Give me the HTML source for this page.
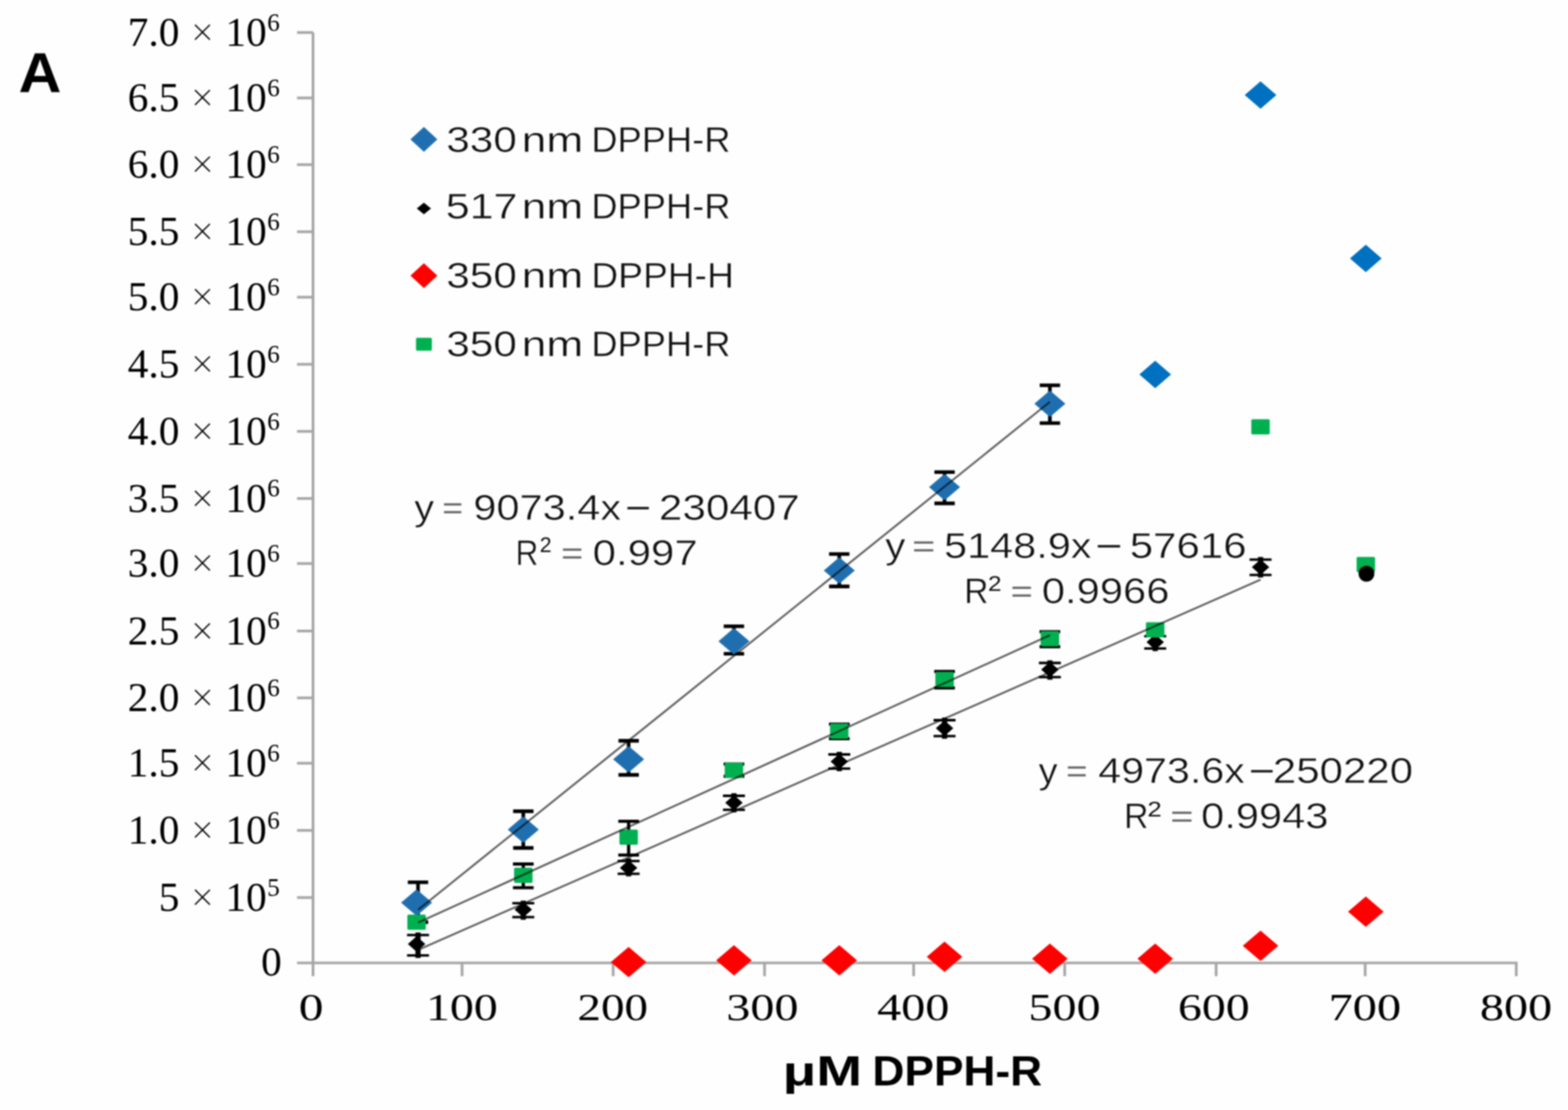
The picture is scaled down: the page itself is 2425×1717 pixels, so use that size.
<!DOCTYPE html>
<html><head><meta charset="utf-8"><title>DPPH calibration chart</title>
<style>
html,body{margin:0;padding:0;background:#fefefe;width:2425px;height:1717px;overflow:hidden}
svg{display:block}
#wrap{filter:blur(1px)}
.serif text{font-family:'Liberation Serif','Times New Roman',serif;fill:#000}
.serif text.times{stroke:#fefefe;stroke-width:1.0px}
.sans text{font-family:'Liberation Sans',Arial,sans-serif;fill:#111;stroke:#fefefe;stroke-width:0.6px}
.sans text.ns{stroke:none;fill:#222}
.sans text.eq{stroke:none;fill:#666}
.sans text.sup{stroke:none}
.sans text.bd{stroke:none;fill:#000}
</style></head><body>
<div id="wrap"><svg width="2425" height="1717" viewBox="0 0 2425 1717">
<rect width="2425" height="1717" fill="#fefefe"/>
<g class="axes">
<line x1="484.1" y1="50.3" x2="484.1" y2="1510" stroke="#a6a6a6" stroke-width="4.2"/>
<line x1="459.4" y1="1489.5" x2="2347.1" y2="1489.5" stroke="#a6a6a6" stroke-width="4.2"/>
<line x1="459.4" y1="1388.4" x2="484.1" y2="1388.4" stroke="#a6a6a6" stroke-width="4.2"/>
<line x1="459.4" y1="1284.5" x2="484.1" y2="1284.5" stroke="#a6a6a6" stroke-width="4.2"/>
<line x1="459.4" y1="1180.6" x2="484.1" y2="1180.6" stroke="#a6a6a6" stroke-width="4.2"/>
<line x1="459.4" y1="1079.5" x2="484.1" y2="1079.5" stroke="#a6a6a6" stroke-width="4.2"/>
<line x1="459.4" y1="976.1" x2="484.1" y2="976.1" stroke="#a6a6a6" stroke-width="4.2"/>
<line x1="459.4" y1="871.7" x2="484.1" y2="871.7" stroke="#a6a6a6" stroke-width="4.2"/>
<line x1="459.4" y1="771.1" x2="484.1" y2="771.1" stroke="#a6a6a6" stroke-width="4.2"/>
<line x1="459.4" y1="667.3" x2="484.1" y2="667.3" stroke="#a6a6a6" stroke-width="4.2"/>
<line x1="459.4" y1="563.5" x2="484.1" y2="563.5" stroke="#a6a6a6" stroke-width="4.2"/>
<line x1="459.4" y1="459.7" x2="484.1" y2="459.7" stroke="#a6a6a6" stroke-width="4.2"/>
<line x1="459.4" y1="358.5" x2="484.1" y2="358.5" stroke="#a6a6a6" stroke-width="4.2"/>
<line x1="459.4" y1="254.7" x2="484.1" y2="254.7" stroke="#a6a6a6" stroke-width="4.2"/>
<line x1="459.4" y1="151.5" x2="484.1" y2="151.5" stroke="#a6a6a6" stroke-width="4.2"/>
<line x1="459.4" y1="50.3" x2="484.1" y2="50.3" stroke="#a6a6a6" stroke-width="4.2"/>
<line x1="714.6" y1="1489.5" x2="714.6" y2="1510" stroke="#a6a6a6" stroke-width="4.2"/>
<line x1="948.3" y1="1489.5" x2="948.3" y2="1510" stroke="#a6a6a6" stroke-width="4.2"/>
<line x1="1182.4" y1="1489.5" x2="1182.4" y2="1510" stroke="#a6a6a6" stroke-width="4.2"/>
<line x1="1413" y1="1489.5" x2="1413" y2="1510" stroke="#a6a6a6" stroke-width="4.2"/>
<line x1="1646.6" y1="1489.5" x2="1646.6" y2="1510" stroke="#a6a6a6" stroke-width="4.2"/>
<line x1="1880.8" y1="1489.5" x2="1880.8" y2="1510" stroke="#a6a6a6" stroke-width="4.2"/>
<line x1="2111.3" y1="1489.5" x2="2111.3" y2="1510" stroke="#a6a6a6" stroke-width="4.2"/>
<line x1="2345" y1="1489.5" x2="2345" y2="1510" stroke="#a6a6a6" stroke-width="4.2"/>
</g>
<g class="serif">
<text x="435.7" y="1508.7" font-size="64" text-anchor="end">0</text>
<text x="277.4" y="1409.0" font-size="64" text-anchor="end">5</text>
<text class="times" x="294.9" y="1409.0" font-size="64">×</text>
<text x="348.4" y="1409.0" font-size="64">10</text>
<text x="413.3" y="1385.6" font-size="39">5</text>
<text x="277.4" y="1305.1" font-size="64" text-anchor="end">1.0</text>
<text class="times" x="294.9" y="1305.1" font-size="64">×</text>
<text x="348.4" y="1305.1" font-size="64">10</text>
<text x="413.3" y="1281.7" font-size="39">6</text>
<text x="277.4" y="1201.2" font-size="64" text-anchor="end">1.5</text>
<text class="times" x="294.9" y="1201.2" font-size="64">×</text>
<text x="348.4" y="1201.2" font-size="64">10</text>
<text x="413.3" y="1177.8" font-size="39">6</text>
<text x="277.4" y="1100.1" font-size="64" text-anchor="end">2.0</text>
<text class="times" x="294.9" y="1100.1" font-size="64">×</text>
<text x="348.4" y="1100.1" font-size="64">10</text>
<text x="413.3" y="1076.7" font-size="39">6</text>
<text x="277.4" y="996.7" font-size="64" text-anchor="end">2.5</text>
<text class="times" x="294.9" y="996.7" font-size="64">×</text>
<text x="348.4" y="996.7" font-size="64">10</text>
<text x="413.3" y="973.3" font-size="39">6</text>
<text x="277.4" y="892.3" font-size="64" text-anchor="end">3.0</text>
<text class="times" x="294.9" y="892.3" font-size="64">×</text>
<text x="348.4" y="892.3" font-size="64">10</text>
<text x="413.3" y="868.9" font-size="39">6</text>
<text x="277.4" y="791.7" font-size="64" text-anchor="end">3.5</text>
<text class="times" x="294.9" y="791.7" font-size="64">×</text>
<text x="348.4" y="791.7" font-size="64">10</text>
<text x="413.3" y="768.3" font-size="39">6</text>
<text x="277.4" y="687.9" font-size="64" text-anchor="end">4.0</text>
<text class="times" x="294.9" y="687.9" font-size="64">×</text>
<text x="348.4" y="687.9" font-size="64">10</text>
<text x="413.3" y="664.5" font-size="39">6</text>
<text x="277.4" y="584.1" font-size="64" text-anchor="end">4.5</text>
<text class="times" x="294.9" y="584.1" font-size="64">×</text>
<text x="348.4" y="584.1" font-size="64">10</text>
<text x="413.3" y="560.7" font-size="39">6</text>
<text x="277.4" y="480.3" font-size="64" text-anchor="end">5.0</text>
<text class="times" x="294.9" y="480.3" font-size="64">×</text>
<text x="348.4" y="480.3" font-size="64">10</text>
<text x="413.3" y="456.9" font-size="39">6</text>
<text x="277.4" y="379.1" font-size="64" text-anchor="end">5.5</text>
<text class="times" x="294.9" y="379.1" font-size="64">×</text>
<text x="348.4" y="379.1" font-size="64">10</text>
<text x="413.3" y="355.7" font-size="39">6</text>
<text x="277.4" y="275.3" font-size="64" text-anchor="end">6.0</text>
<text class="times" x="294.9" y="275.3" font-size="64">×</text>
<text x="348.4" y="275.3" font-size="64">10</text>
<text x="413.3" y="251.9" font-size="39">6</text>
<text x="277.4" y="172.1" font-size="64" text-anchor="end">6.5</text>
<text class="times" x="294.9" y="172.1" font-size="64">×</text>
<text x="348.4" y="172.1" font-size="64">10</text>
<text x="413.3" y="148.7" font-size="39">6</text>
<text x="277.4" y="70.9" font-size="64" text-anchor="end">7.0</text>
<text class="times" x="294.9" y="70.9" font-size="64">×</text>
<text x="348.4" y="70.9" font-size="64">10</text>
<text x="413.3" y="47.5" font-size="39">6</text>
<text id="X0" x="462.03" y="1578.00" font-size="60" textLength="38.31" lengthAdjust="spacingAndGlyphs">0</text>
<text id="X1" x="658.65" y="1578.00" font-size="60" textLength="111.35" lengthAdjust="spacingAndGlyphs">100</text>
<text id="X2" x="893.05" y="1578.00" font-size="60" textLength="109.24" lengthAdjust="spacingAndGlyphs">200</text>
<text id="X3" x="1123.33" y="1578.00" font-size="60" textLength="111.46" lengthAdjust="spacingAndGlyphs">300</text>
<text id="X4" x="1356.45" y="1578.00" font-size="60" textLength="111.85" lengthAdjust="spacingAndGlyphs">400</text>
<text id="X5" x="1590.61" y="1578.00" font-size="60" textLength="111.47" lengthAdjust="spacingAndGlyphs">500</text>
<text id="X6" x="1821.76" y="1578.00" font-size="60" textLength="111.00" lengthAdjust="spacingAndGlyphs">600</text>
<text id="X7" x="2054.66" y="1578.00" font-size="60" textLength="112.37" lengthAdjust="spacingAndGlyphs">700</text>
<text id="X8" x="2288.79" y="1578.00" font-size="60" textLength="111.76" lengthAdjust="spacingAndGlyphs">800</text>
</g>
<g class="data">
<path d="M646.5 1364.8V1426.4" stroke="#000" stroke-width="5.6" stroke-linecap="butt"/><path d="M630.7 1364.8h31.5M630.7 1426.4h31.5" stroke="#000" stroke-width="5.6"/>
<path d="M809.3 1254.9V1311.6" stroke="#000" stroke-width="5.6" stroke-linecap="butt"/><path d="M793.6 1254.9h31.5M793.6 1311.6h31.5" stroke="#000" stroke-width="5.6"/>
<path d="M972.2 1145.9V1198.6" stroke="#000" stroke-width="5.6" stroke-linecap="butt"/><path d="M956.5 1145.9h31.5M956.5 1198.6h31.5" stroke="#000" stroke-width="5.6"/>
<path d="M1135.1 968.7V1011.2" stroke="#000" stroke-width="5.6" stroke-linecap="butt"/><path d="M1119.3 968.7h31.5M1119.3 1011.2h31.5" stroke="#000" stroke-width="5.6"/>
<path d="M1298.0 857.0V907.1" stroke="#000" stroke-width="5.6" stroke-linecap="butt"/><path d="M1282.2 857.0h31.5M1282.2 907.1h31.5" stroke="#000" stroke-width="5.6"/>
<path d="M1460.8 730.3V778.6" stroke="#000" stroke-width="5.6" stroke-linecap="butt"/><path d="M1445.1 730.3h31.5M1445.1 778.6h31.5" stroke="#000" stroke-width="5.6"/>
<path d="M1623.7 596.0V654.5" stroke="#000" stroke-width="5.6" stroke-linecap="butt"/><path d="M1608.0 596.0h31.5M1608.0 654.5h31.5" stroke="#000" stroke-width="5.6"/>
<path d="M620.3 1396.2L644.3 1375.7L668.3 1396.2L644.3 1416.7Z" fill="#1f6fb0"/>
<path d="M785.3 1283.2L809.3 1262.7L833.3 1283.2L809.3 1303.7Z" fill="#1f6fb0"/>
<path d="M948.2 1174.6L972.2 1154.1L996.2 1174.6L972.2 1195.1Z" fill="#1f6fb0"/>
<path d="M1111.1 992.1L1135.1 971.6L1159.1 992.1L1135.1 1012.6Z" fill="#1f6fb0"/>
<path d="M1274.0 882.5L1298.0 862.0L1322.0 882.5L1298.0 903.0Z" fill="#1f6fb0"/>
<path d="M1436.8 753.6L1460.8 733.1L1484.8 753.6L1460.8 774.1Z" fill="#1f6fb0"/>
<path d="M1599.7 624.6L1623.7 604.1L1647.7 624.6L1623.7 645.1Z" fill="#1f6fb0"/>
<path d="M1762.1 579.2L1786.6 558.0L1811.1 579.2L1786.6 600.5Z" fill="#0070c0"/>
<path d="M1925.0 147.0L1949.5 125.8L1974.0 147.0L1949.5 168.2Z" fill="#0070c0"/>
<path d="M2087.8 399.7L2112.3 378.4L2136.8 399.7L2112.3 420.9Z" fill="#0070c0"/>
<path d="M646.5 1446.4V1477.8" stroke="#000" stroke-width="8" stroke-linecap="square"/><path d="M629.5 1446.4h34M629.5 1477.8h34" stroke="#000" stroke-width="3.8"/>
<path d="M809.3 1397.2V1418.7" stroke="#000" stroke-width="8" stroke-linecap="square"/><path d="M792.3 1397.2h34M792.3 1418.7h34" stroke="#000" stroke-width="3.8"/>
<path d="M972.2 1331.9V1351.6" stroke="#000" stroke-width="8" stroke-linecap="square"/><path d="M955.2 1331.9h34M955.2 1351.6h34" stroke="#000" stroke-width="3.8"/>
<path d="M1135.1 1231.0V1252.6" stroke="#000" stroke-width="8" stroke-linecap="square"/><path d="M1118.1 1231.0h34M1118.1 1252.6h34" stroke="#000" stroke-width="3.8"/>
<path d="M1298.0 1167.0V1188.9" stroke="#000" stroke-width="8" stroke-linecap="square"/><path d="M1281.0 1167.0h34M1281.0 1188.9h34" stroke="#000" stroke-width="3.8"/>
<path d="M1460.8 1114.0V1138.7" stroke="#000" stroke-width="8" stroke-linecap="square"/><path d="M1443.8 1114.0h34M1443.8 1138.7h34" stroke="#000" stroke-width="3.8"/>
<path d="M1623.7 1025.5V1047.4" stroke="#000" stroke-width="8" stroke-linecap="square"/><path d="M1606.7 1025.5h34M1606.7 1047.4h34" stroke="#000" stroke-width="3.8"/>
<path d="M1786.6 984.1V1003.2" stroke="#000" stroke-width="8" stroke-linecap="square"/><path d="M1769.6 984.1h34M1769.6 1003.2h34" stroke="#000" stroke-width="3.8"/>
<path d="M1949.5 865.6V889.3" stroke="#000" stroke-width="8" stroke-linecap="square"/><path d="M1932.5 865.6h34M1932.5 889.3h34" stroke="#000" stroke-width="3.8"/>
<path d="M630.8 1460.3L644.3 1448.3L657.8 1460.3L644.3 1472.3Z" fill="#000"/>
<path d="M795.8 1407.0L809.3 1395.0L822.8 1407.0L809.3 1419.0Z" fill="#000"/>
<path d="M958.7 1342.4L972.2 1330.4L985.7 1342.4L972.2 1354.4Z" fill="#000"/>
<path d="M1121.6 1241.8L1135.1 1229.8L1148.6 1241.8L1135.1 1253.8Z" fill="#000"/>
<path d="M1284.5 1178.1L1298.0 1166.1L1311.5 1178.1L1298.0 1190.1Z" fill="#000"/>
<path d="M1447.3 1126.4L1460.8 1114.4L1474.3 1126.4L1460.8 1138.4Z" fill="#000"/>
<path d="M1610.2 1035.7L1623.7 1023.7L1637.2 1035.7L1623.7 1047.7Z" fill="#000"/>
<path d="M1773.1 993.3L1786.6 981.3L1800.1 993.3L1786.6 1005.3Z" fill="#000"/>
<path d="M1936.0 877.3L1949.5 865.3L1963.0 877.3L1949.5 889.3Z" fill="#000"/>
<path d="M944.7 1488.3L972.2 1464.8L999.7 1488.3L972.2 1511.8Z" fill="#ff0000"/>
<path d="M1107.6 1485.5L1135.1 1462.0L1162.6 1485.5L1135.1 1509.0Z" fill="#ff0000"/>
<path d="M1270.5 1485.5L1298.0 1462.0L1325.5 1485.5L1298.0 1509.0Z" fill="#ff0000"/>
<path d="M1433.3 1480.1L1460.8 1456.6L1488.3 1480.1L1460.8 1503.6Z" fill="#ff0000"/>
<path d="M1596.2 1482.9L1623.7 1459.4L1651.2 1482.9L1623.7 1506.4Z" fill="#ff0000"/>
<path d="M1759.1 1482.9L1786.6 1459.4L1814.1 1482.9L1786.6 1506.4Z" fill="#ff0000"/>
<path d="M1922.0 1463.0L1949.5 1439.5L1977.0 1463.0L1949.5 1486.5Z" fill="#ff0000"/>
<path d="M2084.8 1410.3L2112.3 1386.8L2139.8 1410.3L2112.3 1433.8Z" fill="#ff0000"/>
<path d="M809.3 1336.5V1373.2" stroke="#000" stroke-width="5" stroke-linecap="butt"/><path d="M793.3 1336.5h32M793.3 1373.2h32" stroke="#000" stroke-width="4.8"/>
<path d="M972.2 1270.3V1322.7" stroke="#000" stroke-width="5" stroke-linecap="butt"/><path d="M956.2 1270.3h32M956.2 1322.7h32" stroke="#000" stroke-width="4.8"/>
<path d="M1135.1 1181.8V1200.9" stroke="#000" stroke-width="5" stroke-linecap="butt"/><path d="M1119.1 1181.8h32M1119.1 1200.9h32" stroke="#000" stroke-width="4.8"/>
<path d="M1298.0 1120.2V1142.7" stroke="#000" stroke-width="5" stroke-linecap="butt"/><path d="M1282.0 1120.2h32M1282.0 1142.7h32" stroke="#000" stroke-width="4.8"/>
<path d="M1460.8 1038.6V1064.2" stroke="#000" stroke-width="5" stroke-linecap="butt"/><path d="M1444.8 1038.6h32M1444.8 1064.2h32" stroke="#000" stroke-width="4.8"/>
<path d="M1623.7 977.2V1000.3" stroke="#000" stroke-width="5" stroke-linecap="butt"/><path d="M1607.7 977.2h32M1607.7 1000.3h32" stroke="#000" stroke-width="4.8"/>
<rect x="630.0" y="1414.7" width="28.5" height="23.5" rx="2" fill="#00b050"/>
<rect x="795.1" y="1342.2" width="28.5" height="23.5" rx="2" fill="#00b050"/>
<rect x="958.0" y="1283.2" width="28.5" height="23.5" rx="2" fill="#00b050"/>
<rect x="1120.8" y="1179.8" width="28.5" height="23.5" rx="2" fill="#00b050"/>
<rect x="1283.7" y="1119.2" width="28.5" height="23.5" rx="2" fill="#00b050"/>
<rect x="1446.6" y="1039.2" width="28.5" height="23.5" rx="2" fill="#00b050"/>
<rect x="1609.5" y="976.2" width="28.5" height="23.5" rx="2" fill="#00b050"/>
<rect x="1772.3" y="962.5" width="28.5" height="23.5" rx="2" fill="#00b050"/>
<rect x="1935.2" y="648.5" width="28.5" height="23.5" rx="2" fill="#00b050"/>
<rect x="2098.1" y="861.5" width="28.5" height="23.5" rx="2" fill="#00b050"/>
<circle cx="2113.3" cy="887.5" r="12.2" fill="#000"/>
<path d="M646.5 1407.4L1623.7 621.7" stroke="#000" stroke-opacity="0.62" stroke-width="3"/>
<path d="M646.5 1427.2L1623.7 982.6" stroke="#000" stroke-opacity="0.62" stroke-width="3"/>
<path d="M646.5 1469.4L1949.5 896.7" stroke="#000" stroke-opacity="0.62" stroke-width="3"/>
</g>
<g class="legend">
<path d="M635.6 215.6L655.6 197.1L675.6 215.6L655.6 234.1Z" fill="#1f6fb0" stroke="#1f6fb0" stroke-width="1.2" stroke-linejoin="round"/>
<path d="M644.6 322.4L655.6 313.4L666.6 322.4L655.6 331.4Z" fill="#000"/>
<path d="M635.6 426.4L655.6 407.9L675.6 426.4L655.6 444.9Z" fill="#ff0000" stroke="#ff0000" stroke-width="1.2" stroke-linejoin="round"/>
<rect x="643.4" y="522.5" width="24.5" height="20" rx="2" fill="#00b050"/>
</g>
<g class="sans">
<text id="L0a" x="690.19" y="234.50" font-size="55.5" textLength="109.25" lengthAdjust="spacingAndGlyphs">330</text>
<text id="L0b" x="806.83" y="234.50" font-size="55.5" textLength="95.19" lengthAdjust="spacingAndGlyphs">nm</text>
<text id="L0c" x="914.51" y="234.50" font-size="55.5" textLength="215.28" lengthAdjust="spacingAndGlyphs">DPPH-R</text>
<text id="L1a" x="689.15" y="338.00" font-size="55.5" textLength="111.34" lengthAdjust="spacingAndGlyphs">517</text>
<text id="L1b" x="806.83" y="338.00" font-size="55.5" textLength="95.19" lengthAdjust="spacingAndGlyphs">nm</text>
<text id="L1c" x="914.51" y="338.00" font-size="55.5" textLength="215.28" lengthAdjust="spacingAndGlyphs">DPPH-R</text>
<text id="L2a" x="690.19" y="445.00" font-size="55.5" textLength="109.25" lengthAdjust="spacingAndGlyphs">350</text>
<text id="L2b" x="806.83" y="445.00" font-size="55.5" textLength="95.19" lengthAdjust="spacingAndGlyphs">nm</text>
<text id="L2c" x="914.52" y="445.00" font-size="55.5" textLength="220.53" lengthAdjust="spacingAndGlyphs">DPPH-H</text>
<text id="L3a" x="690.19" y="551.00" font-size="55.5" textLength="109.25" lengthAdjust="spacingAndGlyphs">350</text>
<text id="L3b" x="806.83" y="551.00" font-size="55.5" textLength="95.19" lengthAdjust="spacingAndGlyphs">nm</text>
<text id="L3c" x="914.51" y="551.00" font-size="55.5" textLength="215.28" lengthAdjust="spacingAndGlyphs">DPPH-R</text>
<text id="E1a0" x="640.69" y="803.60" font-size="55" textLength="30.57" lengthAdjust="spacingAndGlyphs">y</text>
<text class="eq" id="E1a1" x="683.99" y="801.60" font-size="49" textLength="32.16" lengthAdjust="spacingAndGlyphs">=</text>
<text id="E1a2" x="731.90" y="803.60" font-size="55" textLength="228.76" lengthAdjust="spacingAndGlyphs">9073.4x</text>
<text class="ns" id="E1a3" x="966.89" y="803.60" font-size="55" textLength="39.79" lengthAdjust="spacingAndGlyphs">−</text>
<text id="E1a4" x="1019.13" y="803.60" font-size="55" textLength="217.53" lengthAdjust="spacingAndGlyphs">230407</text>
<text id="E1b0" x="797.35" y="873.90" font-size="55" textLength="35.37" lengthAdjust="spacingAndGlyphs">R</text>
<text class="sup" id="E1b1" x="834.74" y="854.40" font-size="33.7" textLength="18.29" lengthAdjust="spacingAndGlyphs">2</text>
<text class="eq" id="E1b2" x="867.83" y="871.90" font-size="49" textLength="34.21" lengthAdjust="spacingAndGlyphs">=</text>
<text id="E1b3" x="916.56" y="873.90" font-size="55" textLength="162.45" lengthAdjust="spacingAndGlyphs">0.997</text>
<text id="E2a0" x="1369.00" y="863.10" font-size="55" textLength="31.27" lengthAdjust="spacingAndGlyphs">y</text>
<text class="eq" id="E2a1" x="1410.66" y="861.10" font-size="49" textLength="35.61" lengthAdjust="spacingAndGlyphs">=</text>
<text id="E2a2" x="1460.02" y="863.10" font-size="55" textLength="228.15" lengthAdjust="spacingAndGlyphs">5148.9x</text>
<text class="ns" id="E2a3" x="1694.04" y="863.10" font-size="55" textLength="41.49" lengthAdjust="spacingAndGlyphs">−</text>
<text id="E2a4" x="1747.22" y="863.10" font-size="55" textLength="180.79" lengthAdjust="spacingAndGlyphs">57616</text>
<text id="E2b0" x="1491.30" y="933.10" font-size="55" textLength="37.47" lengthAdjust="spacingAndGlyphs">R</text>
<text class="sup" id="E2b1" x="1528.12" y="913.70" font-size="33.7" textLength="20.92" lengthAdjust="spacingAndGlyphs">2</text>
<text class="eq" id="E2b2" x="1562.92" y="931.10" font-size="49" textLength="34.27" lengthAdjust="spacingAndGlyphs">=</text>
<text id="E2b3" x="1611.22" y="933.10" font-size="55" textLength="197.33" lengthAdjust="spacingAndGlyphs">0.9966</text>
<text id="E3a0" x="1606.23" y="1211.10" font-size="55" textLength="29.38" lengthAdjust="spacingAndGlyphs">y</text>
<text class="eq" id="E3a1" x="1648.89" y="1209.10" font-size="49" textLength="33.19" lengthAdjust="spacingAndGlyphs">=</text>
<text id="E3a2" x="1698.53" y="1211.10" font-size="55" textLength="226.65" lengthAdjust="spacingAndGlyphs">4973.6x</text>
<text class="ns" id="E3a3" x="1931.20" y="1211.10" font-size="55" textLength="40.03" lengthAdjust="spacingAndGlyphs">−</text>
<text id="E3a4" x="1968.49" y="1211.10" font-size="55" textLength="216.92" lengthAdjust="spacingAndGlyphs">250220</text>
<text id="E3b0" x="1738.45" y="1280.50" font-size="55" textLength="37.69" lengthAdjust="spacingAndGlyphs">R</text>
<text class="sup" id="E3b1" x="1774.43" y="1263.20" font-size="33.7" textLength="22.14" lengthAdjust="spacingAndGlyphs">2</text>
<text class="eq" id="E3b2" x="1809.93" y="1278.50" font-size="49" textLength="35.72" lengthAdjust="spacingAndGlyphs">=</text>
<text id="E3b3" x="1857.63" y="1280.50" font-size="55" textLength="196.91" lengthAdjust="spacingAndGlyphs">0.9943</text>
<text class="bd" id="TT" x="1210.60" y="1678.80" font-size="64.5" font-weight="bold" textLength="122.62" lengthAdjust="spacingAndGlyphs">μM</text>
<text class="bd" id="TU" x="1349.38" y="1678.80" font-size="64.5" font-weight="bold" textLength="262.33" lengthAdjust="spacingAndGlyphs">DPPH-R</text>
<text class="bd" id="AA" x="28.69" y="141.90" font-size="88" font-weight="bold" textLength="66.14" lengthAdjust="spacingAndGlyphs">A</text>
</g>
</svg></div>
</body></html>
